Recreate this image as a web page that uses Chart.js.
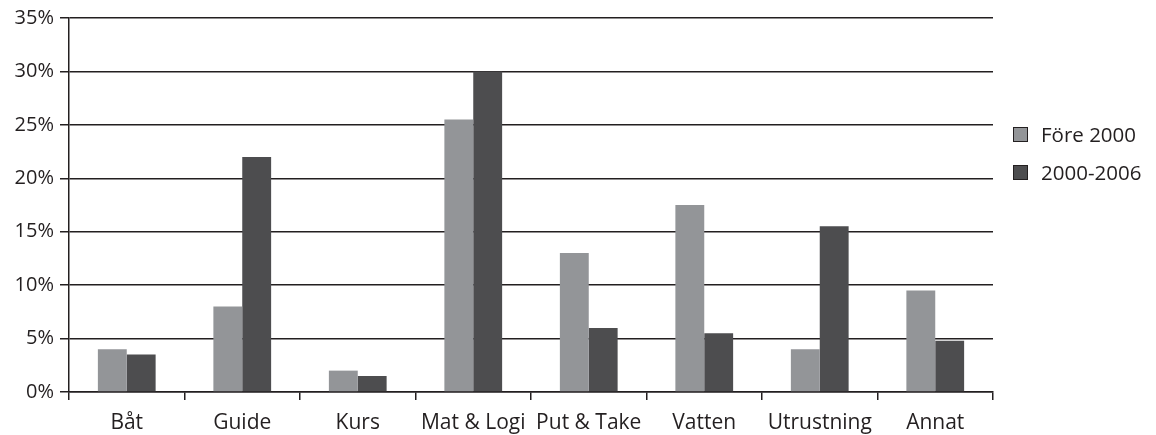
<!DOCTYPE html>
<html>
<head>
<meta charset="utf-8">
<script src="https://cdn.jsdelivr.net/npm/chart.js@4"></script>
<style>
html,body{margin:0;padding:0;background:#fff;}
#wrap{width:1156px;height:435px;position:relative;}
</style>
</head>
<body>
<div id="wrap"><canvas id="c" width="1156" height="435"></canvas></div>
<script>
const categories = ['Båt','Guide','Kurs','Mat & Logi','Put & Take','Vatten','Utrustning','Annat'];
const seriesNames = ['Före 2000','2000-2006'];
const fore2000 = [4, 8, 2, 25.5, 13, 17.5, 4, 9.5];
const y2000_2006 = [3.5, 22, 1.5, 30, 6, 5.5, 15.5, 4.8];
const yTicks = [0, 5, 10, 15, 20, 25, 30, 35];

const FONT = "'Open Sans', sans-serif";
const TEXT = '#231f20';
const colors = ['#939598', '#4d4d4f'];

const legendPlugin = {
  id: 'sideLegend',
  afterDraw(chart) {
    const ctx = chart.ctx;
    ctx.save();
    ctx.font = '20.5px ' + FONT;
    ctx.textBaseline = 'middle';
    ctx.textAlign = 'left';
    const ys = [135, 173];
    chart.data.datasets.forEach((ds, i) => {
      const y = ys[i];
      ctx.fillStyle = ds.backgroundColor;
      ctx.fillRect(1013.5, y - 7.5, 14, 14);
      ctx.strokeStyle = '#231f20';
      ctx.lineWidth = 1;
      ctx.strokeRect(1013.5, y - 7.5, 14, 14);
      ctx.fillStyle = TEXT;
      ctx.fillText(ds.label, 1041, y + 1);
    });
    ctx.restore();
  }
};

new Chart(document.getElementById('c'), {
  type: 'bar',
  data: {
    labels: categories,
    datasets: [
      { label: seriesNames[0], data: fore2000, backgroundColor: colors[0], borderWidth: 0 },
      { label: seriesNames[1], data: y2000_2006, backgroundColor: colors[1], borderWidth: 0 }
    ]
  },
  options: {
    responsive: false,
    animation: false,
    devicePixelRatio: 1,
    layout: { padding: { left: 0, right: 163, top: 18, bottom: 0 } },
    plugins: { legend: { display: false }, tooltip: { enabled: false } },
    datasets: { bar: { categoryPercentage: 0.5, barPercentage: 1.0 } },
    scales: {
      x: {
        offset: true,
        grid: { display: true, offset: true, drawOnChartArea: false, drawTicks: true, tickLength: 8, color: TEXT, lineWidth: 1.5 },
        border: { display: true, color: TEXT, width: 1.5 },
        ticks: { color: TEXT, font: { family: FONT, size: 21 }, padding: 10, maxRotation: 0, autoSkip: false },
        afterFit(scale) { scale.height = 43; }
      },
      y: {
        min: 0, max: 35,
        afterBuildTicks(scale) { scale.ticks = yTicks.map(v => ({ value: v })); },
        grid: { display: true, color: TEXT, lineWidth: 1.5, drawTicks: true, tickLength: 9 },
        border: { display: true, color: TEXT, width: 1.5 },
        ticks: { color: TEXT, font: { family: FONT, size: 20 }, padding: 6, callback: v => v + '%' },
        afterFit(scale) { scale.width = 69; }
      }
    }
  },
  plugins: [legendPlugin]
});
</script>
</body>
</html>
